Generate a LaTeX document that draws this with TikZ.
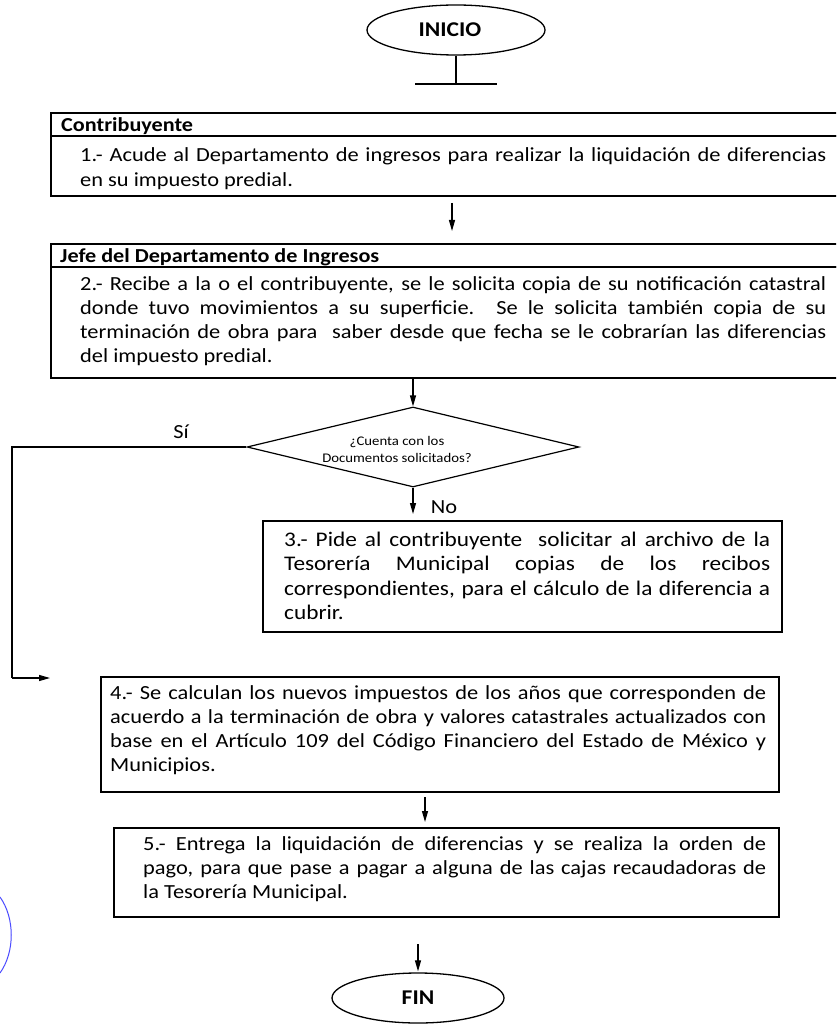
\documentclass[tikz,border=0pt]{standalone}
\usepackage{fontspec}
\setmainfont{Carlito}[FakeStretch=1.12]
\usetikzlibrary{shapes.geometric,arrows.meta}
\newcommand\bodyfont{\fontsize{20}{24.3}\selectfont\hyphenpenalty=10000\exhyphenpenalty=10000}
\newcommand\hdrfont{\fontsize{19.8}{22}\selectfont\bfseries}
\newcommand\bigbodyfont{\fontsize{20.8}{24.6}\selectfont\hyphenpenalty=10000\exhyphenpenalty=10000}
\newcommand\smallfont{\fontsize{13.2}{17}\selectfont}
\tikzset{
  frame/.style={draw, line width=1.2pt, inner sep=0pt, outer sep=0pt, anchor=north west},
  para/.style={inner sep=0pt, anchor=base west, align=justify, font=\bodyfont},
  lbl/.style={inner sep=0pt, anchor=base, font=\bodyfont},
  hdrtext/.style={inner sep=0pt, anchor=base west, font=\hdrfont},
  terminal/.style={draw, ellipse, line width=1.3pt, inner sep=0pt, font=\fontsize{21}{24}\selectfont\bfseries},
  conn/.style={line width=1.2pt},
  arr/.style={line width=1.2pt, -{Triangle[length=11pt,width=6pt]}},
  stamp/.style={draw=blue!70!white, line width=1pt},
}
\begin{document}
\begin{tikzpicture}[x=1pt,y=-1pt]
\useasboundingbox (0,0) rectangle (836,1024);
\clip (0,0) rectangle (836,1024);
\fill[white] (0,0) rectangle (836,1024);

% INICIO
\node[terminal, minimum width=178pt, minimum height=50pt] (inicio) at (456,30) {INICIO\hspace*{12pt}};
\coordinate (stub) at (456,84);
\coordinate (stubl) at (415,84);
\coordinate (stubr) at (497,84);
\draw[conn] (inicio.south) -- (stub);
\draw[conn] (stubl) -- (stubr);

% Box 1
\node[frame, minimum width=792pt, minimum height=23pt] (h1) at (51,113) {};
\node[frame, minimum width=792pt, minimum height=60pt] (b1) at (51,136) {};
\node[hdrtext] (h1t) at (61,131.5) {Contribuyente};
\node[para, text width=746pt] (t1) at (80,162) {1.- Acude al Departamento de ingresos para realizar la liquidación de diferencias\linebreak en su impuesto predial.};

% Box 2
\node[frame, minimum width=792pt, minimum height=23pt] (h2) at (51,244) {};
\node[frame, minimum width=792pt, minimum height=111pt] (b2) at (51,267) {};
\node[hdrtext] (h2t) at (60,262.5) {Jefe del Departamento de Ingresos};
\node[para, text width=746pt] (t2) at (80,290) {2.- Recibe a la o el contribuyente, se le solicita copia de su notificación catastral\linebreak donde tuvo movimientos a su superficie. Se le solicita también copia de su\linebreak terminación de obra para\ \ saber desde que fecha se le cobrarían las diferencias\linebreak del impuesto predial.};

% Decision
\node[draw, diamond, shape aspect=4.15, minimum width=332pt, minimum height=80pt, inner sep=0pt, line width=1.2pt] (dec) at (413,447) {};
\node[inner sep=0pt, align=center, font=\smallfont] (dect) at (397,449) {¿Cuenta con los\\Documentos solicitados?};
\node[lbl] (si) at (181,438) {Sí};
\node[lbl] (no) at (444,513) {No};

% Box 3
\node[frame, minimum width=519pt, minimum height=111pt] (b3) at (263,521) {};
\node[para, font=\bigbodyfont, text width=486pt] (t3) at (284,546) {3.- Pide al contribuyente\ \ solicitar al archivo de la\linebreak Tesorería Municipal copias de los recibos\linebreak correspondientes, para el cálculo de la diferencia a\linebreak cubrir.};

% Box 4
\node[frame, minimum width=678pt, minimum height=115pt] (b4) at (101,677) {};
\node[para, text width=656pt] (t4) at (110,699) {4.- Se calculan los nuevos impuestos de los años que corresponden de\linebreak acuerdo a la terminación de obra y valores catastrales actualizados con\linebreak base en el Artículo 109 del Código Financiero del Estado de México y\linebreak Municipios.};

% Box 5
\node[frame, minimum width=665pt, minimum height=89pt] (b5) at (114,828) {};
\node[para, text width=623pt] (t5) at (143,850) {5.- Entrega la liquidación de diferencias y se realiza la orden de\linebreak pago, para que pase a pagar a alguna de las cajas recaudadoras de\linebreak la Tesorería Municipal.};

% FIN
\node[terminal, minimum width=172pt, minimum height=50pt] (fin) at (418,998) {FIN};

% connector axes
\coordinate (ax1) at (452,0);
\coordinate (ax4) at (425,0);
\coordinate (yesx) at (12,678);
\coordinate (yesend) at (50,678);

% connectors
\draw[arr, shorten <=7pt, shorten >=13pt] (b1.south -| ax1) -- (h2.north -| ax1);
\draw[arr] (b2.south -| dec.north) -- (dec.north);
\draw[conn] (dec.west) -| (yesx);
\draw[arr] (yesx) -- (yesend);
\draw[arr, shorten >=7pt] (dec.south) -- (b3.north -| dec.south);
\draw[arr, shorten <=5pt, shorten >=6pt] (b4.south -| ax4) -- (b5.north -| ax4);
\draw[arr, shorten <=27pt, shorten >=1pt] (b5.south -| fin.north) -- (fin.north);

% stamp remnant
\draw[stamp] (0,897) .. controls (15,918) and (15,952) .. (0,973);
\end{tikzpicture}
\end{document}
